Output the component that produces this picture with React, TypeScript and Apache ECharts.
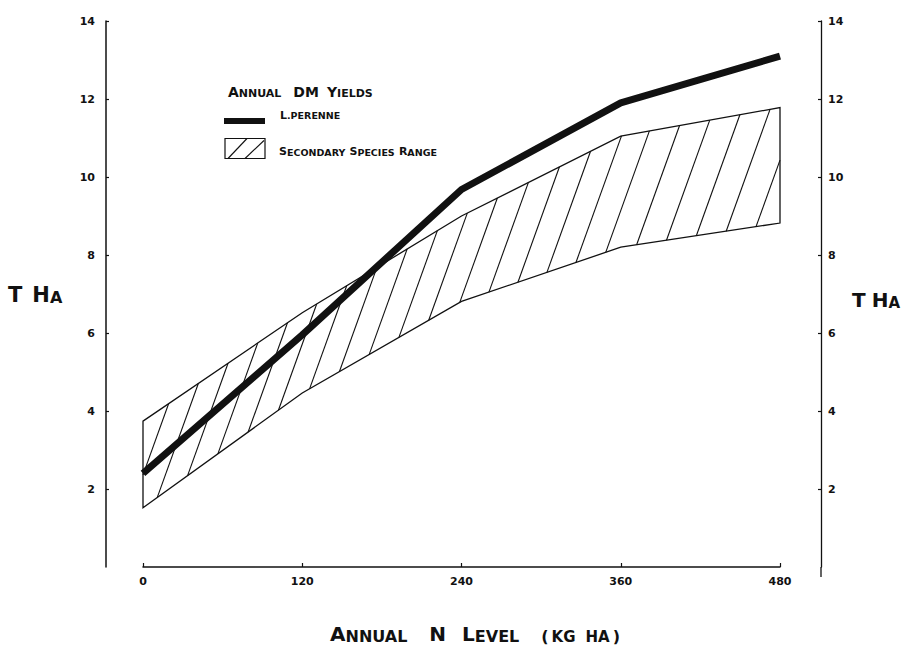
import React, { useEffect, useRef } from "react";
import * as echarts from "echarts";

// N level (kg/ha) and yields (t/ha)
const nLevels = [0, 120, 240, 360, 480];
const perenneYield = [2.4, 5.95, 9.68, 11.9, 13.1];
const rangeUpper = [3.74, 6.52, 9.0, 11.05, 11.78];
const rangeLower = [1.52, 4.46, 6.81, 8.2, 8.82];

const INK = "#111";
const FONT = "DejaVu Sans";

function segmentsForC(poly: number[][], k: number, c: number) {
  const pts: number[][] = [];
  for (let i = 0; i < poly.length; i++) {
    const a = poly[i];
    const b = poly[(i + 1) % poly.length];
    const fa = a[0] + k * a[1] - c;
    const fb = b[0] + k * b[1] - c;
    if ((fa < 0 && fb >= 0) || (fa >= 0 && fb < 0)) {
      const t = fa / (fa - fb);
      pts.push([a[0] + t * (b[0] - a[0]), a[1] + t * (b[1] - a[1])]);
    }
  }
  pts.sort((p, q) => p[1] - q[1]);
  const segs: number[][][] = [];
  for (let j = 0; j + 1 < pts.length; j += 2) segs.push([pts[j], pts[j + 1]]);
  return segs;
}

function interpY(line: number[][], x: number) {
  for (let i = 0; i < line.length - 1; i++) {
    const a = line[i];
    const b = line[i + 1];
    if (x >= a[0] && x <= b[0]) return a[1] + ((x - a[0]) / (b[0] - a[0])) * (b[1] - a[1]);
  }
  return x < line[0][0] ? line[0][1] : line[line.length - 1][1];
}

export default function App() {
  const ref = useRef<HTMLDivElement>(null);
  useEffect(() => {
    const chart = echarts.init(ref.current!, null, { renderer: "svg" });
    const axisLabel = { color: INK, fontFamily: FONT, fontWeight: "bold" as const, fontSize: 11 };
    const txt = (text: string, rich: any, x: number, y: number, align = "left") => ({
      type: "text",
      silent: true,
      style: {
        text,
        rich,
        x,
        y,
        align,
        textAlign: align,
        verticalAlign: "middle",
        textVerticalAlign: "middle",
        fill: INK,
        fontFamily: FONT,
        fontWeight: "bold",
      },
    });
    const tok = (size: number, extra: any = {}) => ({
      fontSize: size,
      fontFamily: FONT,
      fontWeight: "bold",
      color: INK,
      verticalAlign: "bottom",
      ...extra,
    });
    const yNameRich = { b: tok(21), s: tok(16), g: tok(10, { width: 10 }) };
    const yNameRichR = { b: tok(20), s: tok(15), g: tok(10, { width: 6 }) };

    const option: any = {
      animation: false,
      backgroundColor: "#fff",
      grid: { left: 143, right: 125, top: 21, bottom: 83 },
      xAxis: {
        type: "value",
        min: 0,
        max: 480,
        interval: 120,
        axisLine: { show: true, onZero: false, lineStyle: { color: INK, width: 1.5 } },
        axisTick: { show: true, inside: true, length: 4, lineStyle: { color: INK, width: 1.2 } },
        axisLabel: { ...axisLabel, margin: 9 },
        splitLine: { show: false },
      },
      yAxis: [
        {
          type: "value",
          position: "left",
          offset: 37,
          min: 0,
          max: 14,
          interval: 2,
          axisLine: { show: true, onZero: false, lineStyle: { color: INK, width: 1.5 } },
          axisTick: { show: true, inside: true, length: 3, lineStyle: { color: INK, width: 1.2 } },
          axisLabel: { ...axisLabel, margin: 11, showMinLabel: false },
          splitLine: { show: false },
        },
        {
          type: "value",
          position: "right",
          offset: 41,
          min: 0,
          max: 14,
          interval: 2,
          axisLine: { show: true, onZero: false, lineStyle: { color: INK, width: 1.3 } },
          axisTick: { show: true, inside: true, length: 3, lineStyle: { color: INK, width: 1.2 } },
          axisLabel: { ...axisLabel, margin: 7, showMinLabel: false },
          splitLine: { show: false },
        },
      ],
      series: [
        {
          type: "custom",
          coordinateSystem: "cartesian2d",
          silent: true,
          z: 1,
          data: [[0, 0]],
          renderItem: (_params: any, api: any) => {
            const up = nLevels.map((x, i) => api.coord([x, rangeUpper[i]]));
            const lo = nLevels.map((x, i) => api.coord([x, rangeLower[i]]));
            const poly = up.concat(lo.slice().reverse());
            const k = 0.36;
            const children: any[] = [
              {
                type: "polygon",
                shape: { points: poly },
                style: { fill: "none", stroke: INK, lineWidth: 1.3 },
              },
            ];
            const x0 = up[0][0];
            const x1 = up[up.length - 1][0];
            const spacing = 30;
            for (let m = x1 - 2; m > x0 - 40; m -= spacing) {
              const mx = Math.max(x0 + 0.5, Math.min(x1 - 0.5, m));
              const my = (interpY(up, mx) + interpY(lo, mx)) / 2;
              const c = m + k * my;
              segmentsForC(poly, k, c).forEach((s) =>
                children.push({
                  type: "line",
                  shape: { x1: s[0][0], y1: s[0][1], x2: s[1][0], y2: s[1][1] },
                  style: { stroke: INK, lineWidth: 1.1 },
                })
              );
            }
            return { type: "group", children };
          },
        },
        {
          type: "line",
          name: "L.Perenne",
          z: 3,
          symbol: "none",
          data: nLevels.map((x, i) => [x, perenneYield[i]]),
          lineStyle: { color: INK, width: 7, cap: "butt", join: "round" },
        },
      ],
      graphic: [
        // legend
        txt(
          "{b|A}{s|NNUAL}{g| }{b|DM}{h| }{b|Y}{s|IELDS}",
          { b: tok(14), s: tok(11), g: tok(11, { width: 12 }), h: tok(11, { width: 8 }) },
          228,
          92
        ),
        {
          type: "line",
          silent: true,
          shape: { x1: 224, y1: 121, x2: 265, y2: 121 },
          style: { stroke: INK, lineWidth: 6 },
        },
        txt("{b|L}{s|.PERENNE}", { b: tok(11), s: tok(9.5) }, 280, 115),
        {
          type: "rect",
          silent: true,
          shape: { x: 225, y: 138.5, width: 40, height: 20 },
          style: { fill: "none", stroke: INK, lineWidth: 1.2 },
        },
        {
          type: "line",
          silent: true,
          shape: { x1: 228, y1: 158.5, x2: 247, y2: 138.5 },
          style: { stroke: INK, lineWidth: 1.1 },
        },
        {
          type: "line",
          silent: true,
          shape: { x1: 245, y1: 158.5, x2: 264, y2: 140.5 },
          style: { stroke: INK, lineWidth: 1.1 },
        },
        txt(
          "{b|S}{s|ECONDARY} {b|S}{s|PECIES} {b|R}{s|ANGE}",
          { b: tok(11), s: tok(9.5) },
          279,
          151
        ),
        // y-axis names
        txt("{b|T}{g| }{b|H}{s|A}", yNameRich, 8, 295),
        txt("{b|T}{g| }{b|H}{s|A}", yNameRichR, 852, 300),
        // x-axis name
        txt(
          "{b|A}{s|NNUAL}{g| }{b|N}{h| }{b|L}{s|EVEL}{g| }{pp|(}{t| }{p|KG}{w| }{p|HA}{t| }{pp|)}",
          {
            b: tok(20),
            s: tok(16),
            p: tok(15),
            pp: tok(16),
            g: tok(15, { width: 22 }),
            h: tok(15, { width: 16 }),
            t: tok(15, { width: 3 }),
            w: tok(15, { width: 10 }),
          },
          475,
          634,
          "center"
        ),
        // right axis extension below zero
        {
          type: "line",
          silent: true,
          shape: { x1: 821, y1: 567, x2: 821, y2: 577 },
          style: { stroke: INK, lineWidth: 1.3 },
        },
      ],
    };
    chart.setOption(option);
    return () => chart.dispose();
  }, []);
  return (
    <div
      ref={ref}
      style={{ position: "fixed", left: 0, top: 0, width: 905, height: 650, background: "#fff" }}
    />
  );
}
